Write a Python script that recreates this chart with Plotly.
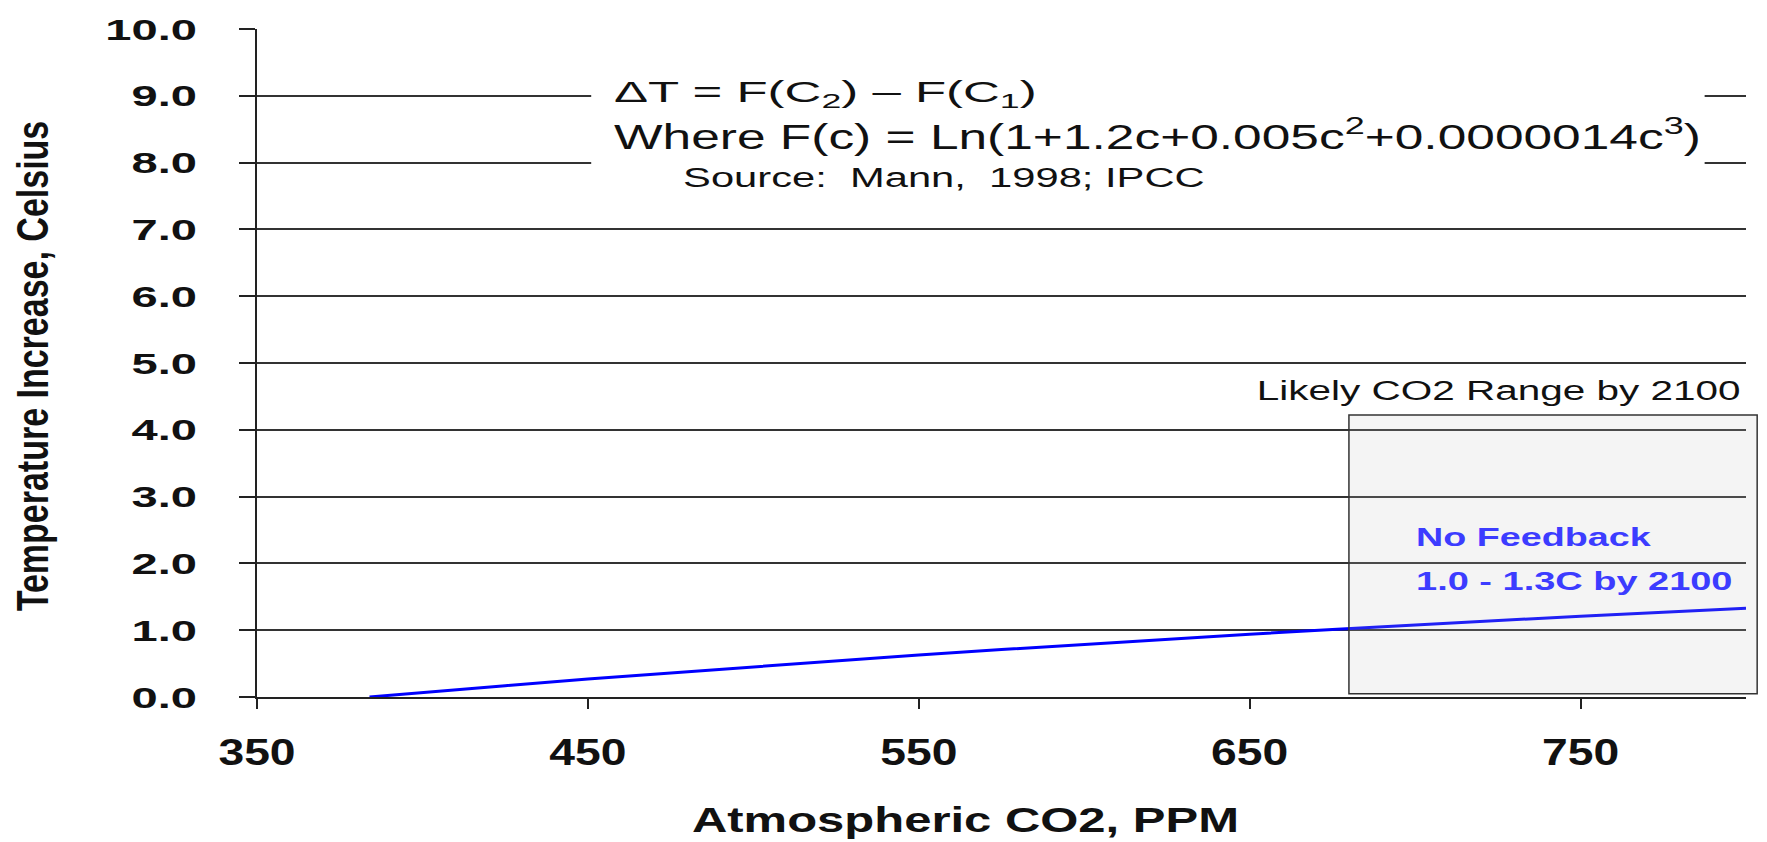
import plotly.graph_objects as go

# ---- data ----
co2_ppm = [384, 400, 425, 450, 475, 500, 525, 550, 575, 600, 625, 650, 675, 700, 725, 750, 775, 800]
temp_increase = [0.00, 0.07, 0.17, 0.27, 0.36, 0.46, 0.54, 0.63, 0.71, 0.79, 0.86, 0.94, 1.01, 1.08, 1.14, 1.21, 1.27, 1.33]

x_ticks = [350, 450, 550, 650, 750]
y_ticks = [0, 1, 2, 3, 4, 5, 6, 7, 8, 9, 10]
x_range = [350, 800]
y_range = [0, 10]

likely_range_ppm = [680, 800]
likely_range_temp = [0.05, 4.22]

formula_line1 = "ΔT = F(C<sub>2</sub>) – F(C<sub>1</sub>)"
formula_line2 = "Where F(c) = Ln(1+1.2c+0.005c<sup>2</sup>+0.0000014c<sup>3</sup>)"
source_text = "Source:  Mann,  1998; IPCC"
range_label = "Likely CO2 Range by 2100"
feedback_1 = "No Feedback"
feedback_2 = "1.0 - 1.3C by 2100"
y_title = "Temperature Increase, Celsius"
x_title = "Atmospheric CO2, PPM"

FONT = "Liberation Sans"

fig = go.Figure()
fig.add_trace(go.Scatter(
    x=co2_ppm, y=temp_increase, mode="lines",
    line=dict(color="#0000ff", width=3), showlegend=False, hoverinfo="skip"))

span = x_range[1] - x_range[0]
# white panel behind the formula text
fig.add_shape(type="rect", xref="x", yref="y", x0=451, x1=787.5, y0=7.45, y1=9.6,
              fillcolor="white", line=dict(width=0), layer="above")
# likely CO2 range box
fig.add_shape(type="rect", xref="paper", yref="y",
              x0=(likely_range_ppm[0] - x_range[0]) / span,
              x1=(likely_range_ppm[1] - x_range[0]) / span + 0.0075,
              y0=likely_range_temp[0], y1=likely_range_temp[1],
              fillcolor="rgba(190,190,190,0.17)",
              line=dict(color="#333333", width=1.5), layer="above")

ann = []
ann.append(dict(x=457.3, y=9.03, xref="x", yref="y", text=formula_line1, showarrow=False,
                xanchor="left", yanchor="middle", font=dict(family=FONT, size=30, color="#111")))
ann.append(dict(x=457.3, y=8.43, xref="x", yref="y", text=formula_line2, showarrow=False,
                xanchor="left", yanchor="middle", font=dict(family=FONT, size=35, color="#111")))
ann.append(dict(x=478.1, y=7.78, xref="x", yref="y", text=source_text, showarrow=False,
                xanchor="left", yanchor="middle", font=dict(family=FONT, size=28, color="#111")))
ann.append(dict(x=799, y=4.58, xref="x", yref="y", text=range_label, showarrow=False,
                xanchor="right", yanchor="middle", font=dict(family=FONT, size=27, color="#111")))
ann.append(dict(x=699.8, y=2.39, xref="x", yref="y", text="<b>" + feedback_1 + "</b>", showarrow=False,
                xanchor="left", yanchor="middle", font=dict(family=FONT, size=26, color="#3c3cff")))
ann.append(dict(x=699.8, y=1.73, xref="x", yref="y", text="<b>" + feedback_2 + "</b>", showarrow=False,
                xanchor="left", yanchor="middle", font=dict(family=FONT, size=26, color="#3c3cff")))
# axis titles
ann.append(dict(x=-0.1504, y=0.495, xref="paper", yref="paper", text="<b>" + y_title + "</b>",
                showarrow=False, textangle=-90, xanchor="center", yanchor="middle",
                font=dict(family=FONT, size=34, color="#111")))
ann.append(dict(x=0.476, y=-0.1838, xref="paper", yref="paper", text="<b>" + x_title + "</b>",
                showarrow=False, xanchor="center", yanchor="middle",
                font=dict(family=FONT, size=35, color="#111")))

fig.update_layout(
    width=1767, height=842,
    margin=dict(l=257, r=21, t=22, b=145),
    paper_bgcolor="white", plot_bgcolor="white",
    annotations=ann,
    xaxis=dict(range=x_range, tickvals=x_ticks, ticks="outside", ticklen=10, tickwidth=1.5,
               tickcolor="#222", showline=True, linecolor="#222", linewidth=1.5, showgrid=False,
               zeroline=False, ticklabelstandoff=12,
               tickfont=dict(family=FONT, size=37, color="#111", weight="bold")),
    yaxis=dict(range=y_range, tickvals=y_ticks, tickformat=".1f", ticks="outside", ticklen=16,
               tickwidth=1.5, tickcolor="#222", showline=True, linecolor="#222", linewidth=2,
               showgrid=True, gridcolor="#333", gridwidth=1.5, zeroline=False,
               ticklabelstandoff=36,
               tickfont=dict(family=FONT, size=30, color="#111", weight="bold")),
)

# The reference lettering is horizontally wide; widen text glyphs in place
# (anchored so positions stay where plotly placed them).
post_js = r"""
var gd = document.querySelector('.js-plotly-plot');
function st(el, s, mode, vertical){
  try {
    var b = el.getBBox();
    var tr = el.getAttribute('transform') || '';
    if (vertical){
      var cy = b.y + b.height/2;
      el.setAttribute('transform', tr + ' translate(0,' + cy + ') scale(1,' + s + ') translate(0,' + (-cy) + ')');
    } else {
      var ax = mode === 'left' ? b.x : (mode === 'right' ? b.x + b.width : b.x + b.width/2);
      el.setAttribute('transform', tr + ' translate(' + ax + ',0) scale(' + s + ',1) translate(' + (-ax) + ',0)');
    }
  } catch(e) {}
}
gd.querySelectorAll('.ytick text').forEach(function(t){ st(t, 1.57, 'right'); });
gd.querySelectorAll('.xtick text').forEach(function(t){ st(t, 1.25, 'center'); });
var specs = [[0,1.70,'left',false],[1,1.47,'left',false],[2,1.49,'left',false],[3,1.50,'right',false],
             [4,1.45,'left',false],[5,1.46,'left',false],[6,1.30,'center',true],[7,1.40,'center',false]];
specs.forEach(function(p){
  var t = gd.querySelector('.annotation[data-index="' + p[0] + '"] text.annotation-text');
  if (t) st(t, p[1], p[2], p[3]);
});
"""

fig.write_html("out.html", post_script=post_js)
